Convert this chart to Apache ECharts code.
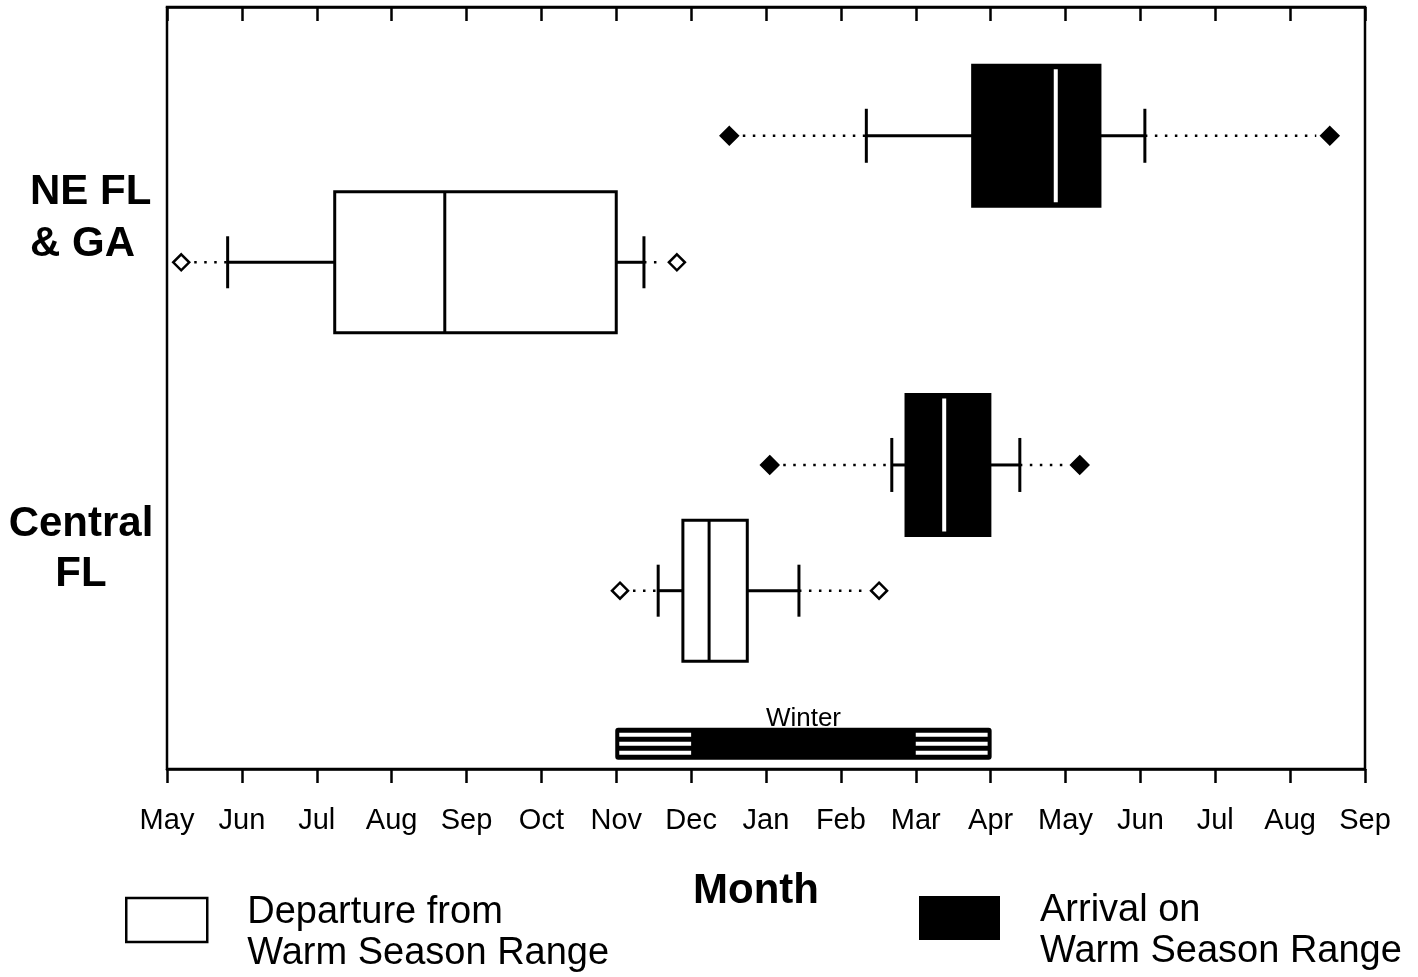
<!DOCTYPE html>
<html>
<head>
<meta charset="utf-8">
<title>Seasonal movement timing</title>
<script src="https://cdn.jsdelivr.net/npm/echarts@6/dist/echarts.min.js"></script>
<style>
  html, body { margin: 0; padding: 0; background: #fff; }
  #chart { width: 1418px; height: 977px; }
</style>
</head>
<body>
<div id="chart"></div>
<script>
// Month ticks, starting in May and running 16 months to the following September
const monthLabels = ['May', 'Jun', 'Jul', 'Aug', 'Sep', 'Oct', 'Nov', 'Dec', 'Jan',
                     'Feb', 'Mar', 'Apr', 'May', 'Jun', 'Jul', 'Aug', 'Sep'];

// Regions, in drawing order
const regions = ['NE FL\n& GA', 'Central FL'];

// Box summaries in months after 1 May:
// [low outlier, low whisker, Q1, median, Q3, high whisker, high outlier]
const departure = [
  [0.19, 0.81, 2.24, 3.71, 6.00, 6.37, 6.81],   // NE FL & GA
  [6.05, 6.56, 6.89, 7.24, 7.75, 8.44, 9.51]    // Central FL
];
const arrival = [
  [7.51, 9.34, 10.76, 11.87, 12.46, 13.06, 15.53], // NE FL & GA
  [8.05, 9.68, 9.87, 10.38, 10.99, 11.39, 12.19]   // Central FL
];

// Winter band: [start, solid start, solid end, end] (Nov, Dec, Mar, Apr)
const winterSpan = [6, 7, 10, 11];

const SERIES_DEP = 'Departure from Warm Season Range';
const SERIES_ARR = 'Arrival on Warm Season Range';

// Vertical layout on a hidden 0..100 axis (top to bottom)
const ROW_Y = {
  arrival: [16.9, 60.1],
  departure: [33.5, 76.6],
  winterBar: 96.7,
  winterText: 93.4
};

const FONT = '"Liberation Sans", Arial, Helvetica, sans-serif';

function diamond(cx, cy, r, fill) {
  return {
    type: 'polygon',
    shape: { points: [[cx, cy - r], [cx + r, cy], [cx, cy + r], [cx - r, cy]] },
    style: { fill: fill, stroke: '#000', lineWidth: 2.5 },
    z2: 10
  };
}

function boxRenderer(kind) {
  const filled = kind === 'arrival';
  return function (params, api) {
    const row = ROW_Y[kind][params.dataIndex];
    const xs = [0, 1, 2, 3, 4, 5, 6].map(k => api.coord([api.value(k), row])[0]);
    const y = api.coord([api.value(0), row])[1];
    const boxH = 141;
    const capH = filled ? 54 : 52;
    const r = filled ? 8.5 : 8;
    const solid = { stroke: '#000', lineWidth: 3 };
    const dotted = { stroke: '#000', lineWidth: 2.5, lineDash: [2.5, 7.5] };
    const children = [
      { type: 'line', shape: { x1: xs[0] + r + 5, y1: y, x2: xs[1], y2: y }, style: dotted },
      { type: 'line', shape: { x1: xs[5], y1: y, x2: xs[6] - r - 5, y2: y }, style: dotted },
      { type: 'line', shape: { x1: xs[1], y1: y, x2: xs[2], y2: y }, style: solid },
      { type: 'line', shape: { x1: xs[4], y1: y, x2: xs[5], y2: y }, style: solid },
      { type: 'line', shape: { x1: xs[1], y1: y - capH / 2, x2: xs[1], y2: y + capH / 2 }, style: solid },
      { type: 'line', shape: { x1: xs[5], y1: y - capH / 2, x2: xs[5], y2: y + capH / 2 }, style: solid },
      {
        type: 'rect',
        shape: { x: xs[2], y: y - boxH / 2, width: xs[4] - xs[2], height: boxH },
        style: { fill: filled ? '#000' : '#fff', stroke: '#000', lineWidth: 3 }
      },
      filled
        ? { type: 'line', shape: { x1: xs[3], y1: y - boxH / 2 + 4, x2: xs[3], y2: y + boxH / 2 - 4 },
            style: { stroke: '#fff', lineWidth: 4 } }
        : { type: 'line', shape: { x1: xs[3], y1: y - boxH / 2, x2: xs[3], y2: y + boxH / 2 },
            style: { stroke: '#000', lineWidth: 3 } },
      diamond(xs[0], y, r, filled ? '#000' : '#fff'),
      diamond(xs[6], y, r, filled ? '#000' : '#fff')
    ];
    return { type: 'group', children: children };
  };
}

function winterRenderer(params, api) {
  const p = k => api.coord([api.value(k), ROW_Y.winterBar]);
  const x0 = p(0)[0], x1 = p(1)[0], x2 = p(2)[0], x3 = p(3)[0];
  const yc = p(0)[1];
  const h = 30, top = yc - h / 2;
  const stripes = [];
  [4, 13, 22].forEach(off => {
    stripes.push({ type: 'rect', shape: { x: x0 + 3, y: top + off, width: x1 - x0 - 3, height: 4 },
                   style: { fill: '#fff' } });
    stripes.push({ type: 'rect', shape: { x: x2, y: top + off, width: x3 - x2 - 3, height: 4 },
                   style: { fill: '#fff' } });
  });
  const textPos = api.coord([(api.value(0) + api.value(3)) / 2, ROW_Y.winterText]);
  return {
    type: 'group',
    children: [
      { type: 'rect', shape: { x: x0, y: top, width: x3 - x0, height: h, r: 2 },
        style: { fill: '#000', stroke: '#000', lineWidth: 2 } },
      ...stripes,
      { type: 'text', x: textPos[0], y: textPos[1],
        style: { text: 'Winter', fill: '#000', font: '26px ' + FONT, align: 'center', verticalAlign: 'middle' } }
    ]
  };
}

// Legend labels wrap onto two lines; a short spacer line drops them below the swatch centre
const legendText = {
  fontSize: 38, fontFamily: FONT, color: '#000', lineHeight: 41, padding: [0, 0, 0, 35],
  rich: { s: { fontSize: 10, lineHeight: 26 } }
};
const legendFmt = name => '{s| }\n' + name.replace(' Warm', '\nWarm');

const option = {
  backgroundColor: '#fff',
  animation: false,
  grid: {
    left: 167, right: 53, top: 7, bottom: 208,
    show: true, borderColor: '#000', borderWidth: 2.5, backgroundColor: 'transparent'
  },
  legend: [
    {
      data: [{ name: SERIES_DEP, icon: 'rect', itemStyle: { color: '#fff', borderColor: '#000', borderWidth: 2.5 } }],
      left: 120, top: 861, itemWidth: 81, itemHeight: 44, selectedMode: false,
      formatter: legendFmt, textStyle: legendText
    },
    {
      data: [{ name: SERIES_ARR, icon: 'rect', itemStyle: { color: '#000', borderColor: '#000', borderWidth: 0 } }],
      left: 914, top: 859, itemWidth: 81, itemHeight: 44, selectedMode: false,
      formatter: legendFmt, textStyle: legendText
    }
  ],
  xAxis: [
    {
      type: 'value', position: 'bottom', min: 0, max: monthLabels.length - 1, interval: 1,
      name: 'Month', nameLocation: 'middle', nameGap: 101,
      nameTextStyle: { fontSize: 42, fontWeight: 'bold', fontFamily: FONT, color: '#000', padding: [0, 20, 0, 0] },
      axisLine: { show: true, onZero: false, lineStyle: { color: '#000', width: 2.5 } },
      axisTick: { show: true, inside: false, length: 14, lineStyle: { color: '#000', width: 2.5 } },
      axisLabel: {
        margin: 37, fontSize: 29, fontFamily: FONT, color: '#000',
        formatter: v => monthLabels[Math.round(v)] || ''
      },
      splitLine: { show: false }
    },
    {
      type: 'value', position: 'top', min: 0, max: monthLabels.length - 1, interval: 1,
      axisLine: { show: true, onZero: false, lineStyle: { color: '#000', width: 2.5 } },
      axisTick: { show: true, inside: true, length: 14, lineStyle: { color: '#000', width: 2.5 } },
      axisLabel: { show: false },
      splitLine: { show: false }
    }
  ],
  yAxis: {
    type: 'value', min: 0, max: 100, inverse: true, show: false
  },
  graphic: [
    {
      type: 'text', left: 30, top: 166,
      style: { text: regions[0], font: 'bold 42px ' + FONT, fill: '#000', lineHeight: 52, align: 'left' }
    },
    {
      type: 'text', x: 81, y: 549,
      style: { text: regions[1].replace(' ', '\n'), font: 'bold 42px ' + FONT, fill: '#000',
               lineHeight: 50, align: 'center', verticalAlign: 'middle' }
    }
  ],
  series: [
    {
      name: SERIES_DEP, type: 'custom', xAxisIndex: 0, yAxisIndex: 0,
      renderItem: boxRenderer('departure'),
      itemStyle: { color: '#fff', borderColor: '#000' },
      encode: { x: [0, 1, 2, 3, 4, 5, 6] },
      data: departure, z: 3, silent: true
    },
    {
      name: SERIES_ARR, type: 'custom', xAxisIndex: 0, yAxisIndex: 0,
      renderItem: boxRenderer('arrival'),
      itemStyle: { color: '#000' },
      encode: { x: [0, 1, 2, 3, 4, 5, 6] },
      data: arrival, z: 3, silent: true
    },
    {
      name: 'Winter', type: 'custom', xAxisIndex: 0, yAxisIndex: 0,
      renderItem: winterRenderer,
      encode: { x: [0, 1, 2, 3] },
      data: [winterSpan], z: 2, silent: true
    }
  ]
};

const chart = echarts.init(document.getElementById('chart'), null, { renderer: 'canvas' });
chart.setOption(option);
</script>
</body>
</html>
